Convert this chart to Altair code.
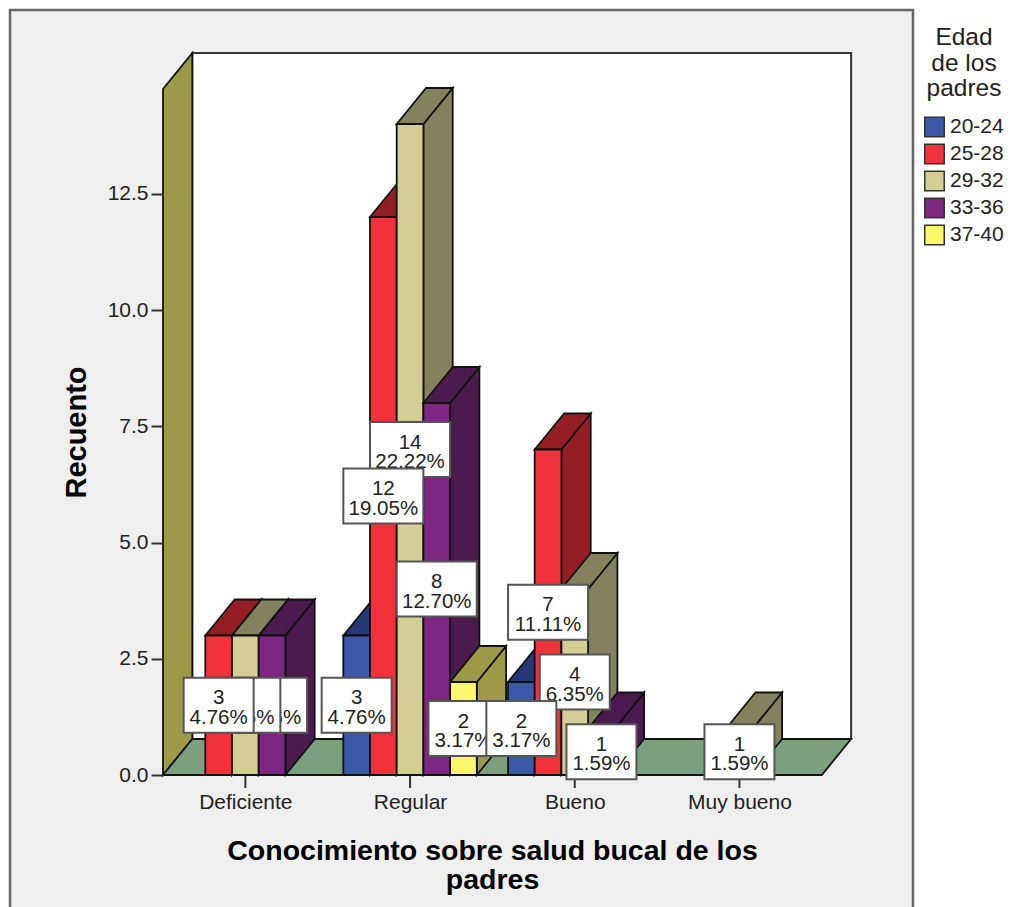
import altair as alt
import pandas as pd

# Counts per knowledge level and parents' age group
categories = ["Deficiente", "Regular", "Bueno", "Muy bueno"]
age_groups = ["20-24", "25-28", "29-32", "33-36", "37-40"]
counts_deficiente = [0, 3, 3, 3, 0]
counts_regular = [3, 12, 14, 8, 2]
counts_bueno = [2, 7, 4, 1, 0]
counts_muy_bueno = [0, 0, 1, 0, 0]
all_counts = [counts_deficiente, counts_regular, counts_bueno, counts_muy_bueno]

front_colors = ["#3C58A8", "#F2323A", "#D3CE95", "#7D2682", "#FDF76B"]
side_colors = ["#233874", "#941E24", "#84825E", "#4B1A4E", "#9C9A46"]
wall_color = "#9C9A48"
floor_color = "#7CA07E"
panel_color = "#EFEFEF"
edge_color = "#111111"
text_color = "#222222"
font = "Liberation Sans"

# Pixel scale of the plot area and the oblique depth, in data units
unit_x = 164.7
unit_y = 46.5
plot_w = 687
plot_h = 722
depth_x = 29.3 / unit_x
depth_y = 36 / unit_y
slot = 26.7 / unit_x
top_value = 686 / unit_y
box_half_w_narrow = 35 / unit_x
box_half_w_wide = 40 / unit_x
box_half_h = 27.5 / unit_y
total = sum(sum(row) for row in all_counts)

x_scale = alt.Scale(domain=[0, plot_w / unit_x], range=[0, plot_w], nice=False, zero=False)
y_scale = alt.Scale(domain=[0, plot_h / unit_y], range=[plot_h, 0], nice=False, zero=False)

tick_values = [0, 2.5, 5, 7.5, 10, 12.5]
y_axis = alt.Axis(
    values=tick_values,
    format=".1f",
    domain=False,
    grid=False,
    tickSize=12,
    tickWidth=2,
    tickColor="#333333",
    labelFont=font,
    labelFontSize=21,
    labelColor=text_color,
    labelPadding=3,
    title="Recuento",
    titleFont=font,
    titleFontSize=29,
    titleFontWeight="bold",
    titleColor="#000000",
    titleX=-72,
    titleY=379,
    zindex=1,
)
x_axis = alt.Axis(
    values=[i + 0.5 for i in range(len(categories))],
    labelExpr="['Deficiente','Regular','Bueno','Muy bueno'][datum.value - 0.5]",
    domain=False,
    grid=False,
    ticks=False,
    labelFont=font,
    labelFontSize=21,
    labelColor=text_color,
    labelPadding=16,
    title=["Conocimiento sobre salud bucal de los", "padres"],
    titleFont=font,
    titleFontSize=28.5,
    titleFontWeight="bold",
    titleColor="#000000",
    titleLineHeight=29,
    titleX=329,
    titleY=61,
    zindex=1,
)


def X(field):
    return alt.X(field, type="quantitative", scale=x_scale, axis=x_axis)


def Y(field):
    return alt.Y(field, type="quantitative", scale=y_scale, axis=y_axis)


def side_face(x0, height, color):
    frame = pd.DataFrame({
        "x": [x0, x0 + depth_x],
        "lo": [0, depth_y],
        "hi": [height, height + depth_y],
    })
    return alt.Chart(frame).mark_area(
        color=color, stroke=edge_color, strokeWidth=1.8
    ).encode(x=X("x"), y=Y("lo"), y2=alt.Y2("hi"))


def top_face(x0, x1, height, color):
    frame = pd.DataFrame({
        "y": [height, height + depth_y],
        "a": [x0, x0 + depth_x],
        "b": [x1, x1 + depth_x],
    })
    return alt.Chart(frame).mark_area(
        orient="horizontal", color=color, stroke=edge_color, strokeWidth=1.8
    ).encode(y=Y("y"), x=X("a"), x2=alt.X2("b"))


legend = alt.Legend(
    orient="none",
    legendX=761,
    legendY=-27,
    title=["Edad", "de los", "padres"],
    titleFont=font,
    titleFontSize=24.5,
    titleFontWeight="normal",
    titleColor=text_color,
    titleLineHeight=25.5,
    titleAlign="center",
    titleAnchor="middle",
    titlePadding=15,
    labelFont=font,
    labelFontSize=21,
    labelColor=text_color,
    labelOffset=5,
    symbolType="square",
    symbolSize=380,
    symbolStrokeColor="#333333",
    symbolStrokeWidth=1.5,
    rowPadding=0,
)
fill_scale = alt.Scale(domain=age_groups, range=front_colors)

layers = []

# Gray panel with its border
layers.append(
    alt.Chart(pd.DataFrame({"a": [0]})).mark_rect(
        fill=panel_color, stroke="#666666", strokeWidth=2.5
    ).encode(
        x=alt.value(-153), x2=alt.value(750), y=alt.value(-43), y2=alt.value(870)
    )
)

# Back wall
layers.append(
    alt.Chart(pd.DataFrame({
        "x": [depth_x], "x2": [len(categories) + depth_x],
        "y": [depth_y], "y2": [top_value + depth_y],
    })).mark_rect(fill="#FFFFFF", stroke="#333333", strokeWidth=2).encode(
        x=X("x"), x2=alt.X2("x2"),
        y=Y("y"), y2=alt.Y2("y2"),
    )
)

# Left wall and floor
layers.append(side_face(0, top_value, wall_color))
layers.append(top_face(0, len(categories), 0, floor_color))

# Category tick marks under the floor
layers.append(
    alt.Chart(pd.DataFrame({"x": [i + 0.5 for i in range(len(categories))]})).mark_rule(
        color="#333333", strokeWidth=2
    ).encode(x=X("x"), y=alt.value(plot_h), y2=alt.value(plot_h + 13))
)

# Bars, painted left to right so nearer faces cover the ones behind
for c, row in enumerate(all_counts):
    for s, value in enumerate(row):
        if value == 0:
            continue
        x0 = c + 0.5 + (s - 2.5) * slot
        x1 = x0 + slot
        layers.append(side_face(x1, value, side_colors[s]))
        layers.append(top_face(x0, x1, value, side_colors[s]))
        layers.append(
            alt.Chart(pd.DataFrame({
                "x": [x0], "x2": [x1], "y": [0], "y2": [value], "age": [age_groups[s]],
            })).mark_rect(stroke=edge_color, strokeWidth=1.8).encode(
                x=X("x"), x2=alt.X2("x2"), y=Y("y"), y2=alt.Y2("y2"),
                fill=alt.Fill("age:N", scale=fill_scale, legend=legend),
            )
        )

# Value labels: within a cluster the leftmost box stays on top
for c, row in enumerate(all_counts):
    for s in reversed(range(len(row))):
        value = row[s]
        if value == 0:
            continue
        center = c + 0.5 + (s - 2) * slot
        mid = value / 2
        share = value / total * 100
        half_w = box_half_w_wide if share >= 10 else box_half_w_narrow
        layers.append(
            alt.Chart(pd.DataFrame({
                "x": [center - half_w], "x2": [center + half_w],
                "y": [mid - box_half_h], "y2": [mid + box_half_h],
            })).mark_rect(fill="#FFFFFF", stroke="#555555", strokeWidth=2).encode(
                x=X("x"), x2=alt.X2("x2"), y=Y("y"), y2=alt.Y2("y2"),
            )
        )
        layers.append(
            alt.Chart(pd.DataFrame({
                "x": [center], "y": [mid],
                "label": [f"{value}\n{share:.2f}%"],
            })).mark_text(
                font=font, fontSize=20.5, color=text_color, dy=-7,
                lineBreak="\n", lineHeight=19.5, align="center", baseline="middle",
            ).encode(x=X("x"), y=Y("y"), text="label:N")
        )

chart = alt.layer(*layers).properties(
    width=plot_w,
    height=plot_h,
    background="#FFFFFF",
    padding={"left": 163, "top": 53, "right": 162, "bottom": 132},
    autosize=alt.AutoSizeParams(type="none"),
).configure_view(stroke=None)

chart.save("out.html", embed_options={"renderer": "svg", "actions": False})
